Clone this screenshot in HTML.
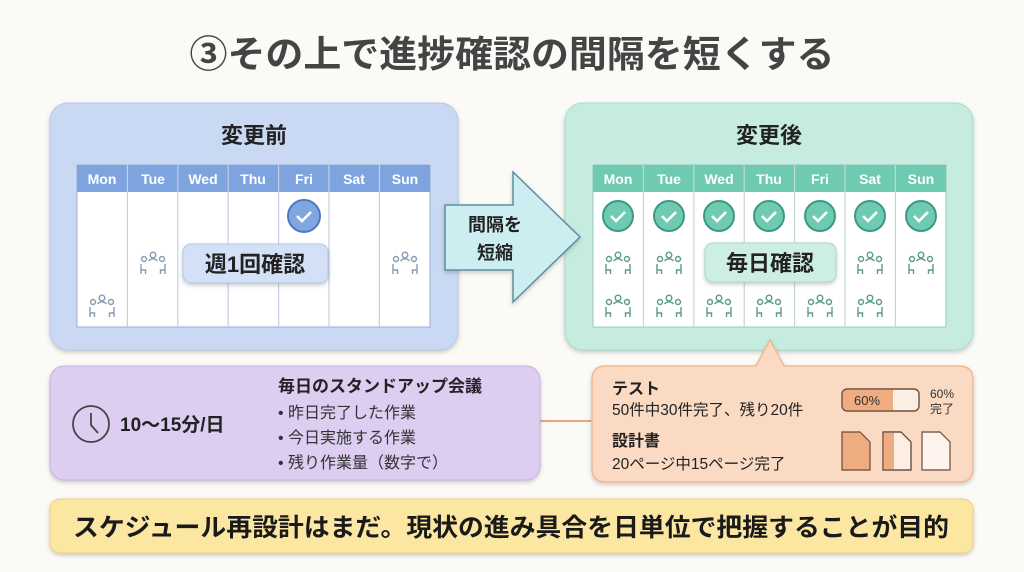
<!DOCTYPE html>
<html><head><meta charset="utf-8"><style>
html,body{margin:0;padding:0;background:#fbfaf6;}
svg{display:block;font-family:"Liberation Sans","Noto Sans CJK JP",sans-serif;}
</style></head><body>
<svg width="1024" height="572" viewBox="0 0 1024 572" xmlns="http://www.w3.org/2000/svg">
<defs>
<filter id="sh" x="-10%" y="-10%" width="120%" height="130%"><feDropShadow dx="0" dy="2" stdDeviation="2" flood-color="#000" flood-opacity="0.2"/></filter>
<g id="ppl" fill="none" stroke-width="1.4">
 <circle cx="0" cy="-7" r="2.8"/><path d="M-4.5,-1 q4.5,-4.5 9,0"/>
 <circle cx="-9" cy="-3" r="2.5"/><path d="M-12,2 v6 h4.5 v4 M-12,8 v4"/>
 <circle cx="9" cy="-3" r="2.5"/><path d="M12,2 v6 h-4.5 v4 M12,8 v4"/>
</g>
<g id="chkB"><circle r="16" fill="#7fa6e0" stroke="#4e79bd" stroke-width="2"/><path d="M-7,0 l5,5 l9,-9" stroke="#fff" stroke-width="2.6" fill="none"/></g>
<g id="chkG"><circle r="15" fill="#6ecab0" stroke="#3c9a82" stroke-width="2"/><path d="M-7,0 l5,5 l9,-9" stroke="#fff" stroke-width="2.6" fill="none"/></g>
</defs>
<rect width="1024" height="572" fill="#fbfaf6"/>
<text x="512" y="67" text-anchor="middle" font-size="37" font-weight="bold" fill="#444" textLength="645" lengthAdjust="spacingAndGlyphs">③その上で進捗確認の間隔を短くする</text>

<!-- left panel -->
<rect x="50" y="103" width="408" height="247" rx="18" fill="#c9d9f3" stroke="#b5c8ea" filter="url(#sh)"/>
<text x="254" y="143" text-anchor="middle" font-size="22" font-weight="bold" fill="#222">変更前</text>
<rect x="77" y="165" width="353" height="162" fill="#fff" stroke="#9aaed0"/>
<rect x="77" y="165" width="353" height="27" fill="#7ea4e0"/>
<g stroke="#c4cfe2" stroke-width="1.2"><line x1="127.4" y1="165" x2="127.4" y2="327"/><line x1="177.8" y1="165" x2="177.8" y2="327"/><line x1="228.2" y1="165" x2="228.2" y2="327"/><line x1="278.6" y1="165" x2="278.6" y2="327"/><line x1="329" y1="165" x2="329" y2="327"/><line x1="379.4" y1="165" x2="379.4" y2="327"/></g>
<g font-size="14" font-weight="bold" fill="#fff" text-anchor="middle"><text x="102" y="184">Mon</text><text x="153" y="184">Tue</text><text x="203" y="184">Wed</text><text x="253" y="184">Thu</text><text x="304" y="184">Fri</text><text x="354" y="184">Sat</text><text x="405" y="184">Sun</text></g>
<use href="#chkB" x="304" y="216"/>
<g stroke="#8a9ab5"><use href="#ppl" x="102" y="305"/><use href="#ppl" x="153" y="262"/><use href="#ppl" x="405" y="262"/></g>
<rect x="183" y="244" width="145" height="39" rx="8" fill="#d3e0f6" stroke="#b6c7e6" filter="url(#sh)"/>
<text x="255" y="272" text-anchor="middle" font-size="22" font-weight="bold" fill="#222">週1回確認</text>

<!-- right panel -->
<rect x="565" y="103" width="408" height="247" rx="18" fill="#c6ece0" stroke="#a9dcce" filter="url(#sh)"/>
<text x="769" y="143" text-anchor="middle" font-size="22" font-weight="bold" fill="#222">変更後</text>
<rect x="593" y="165" width="353" height="162" fill="#fff" stroke="#9cc9bc"/>
<rect x="593" y="165" width="353" height="27" fill="#6ecab0"/>
<g stroke="#c4d8d2" stroke-width="1.2"><line x1="643.4" y1="165" x2="643.4" y2="327"/><line x1="693.8" y1="165" x2="693.8" y2="327"/><line x1="744.2" y1="165" x2="744.2" y2="327"/><line x1="794.6" y1="165" x2="794.6" y2="327"/><line x1="845" y1="165" x2="845" y2="327"/><line x1="895.4" y1="165" x2="895.4" y2="327"/></g>
<g font-size="14" font-weight="bold" fill="#fff" text-anchor="middle"><text x="618" y="184">Mon</text><text x="669" y="184">Tue</text><text x="719" y="184">Wed</text><text x="769" y="184">Thu</text><text x="820" y="184">Fri</text><text x="870" y="184">Sat</text><text x="921" y="184">Sun</text></g>
<use href="#chkG" x="618" y="216"/><use href="#chkG" x="669" y="216"/><use href="#chkG" x="719" y="216"/><use href="#chkG" x="769" y="216"/><use href="#chkG" x="820" y="216"/><use href="#chkG" x="870" y="216"/><use href="#chkG" x="921" y="216"/>
<g stroke="#5a9c8a"><use href="#ppl" x="618" y="262"/><use href="#ppl" x="669" y="262"/><use href="#ppl" x="870" y="262"/><use href="#ppl" x="921" y="262"/>
<use href="#ppl" x="618" y="305"/><use href="#ppl" x="669" y="305"/><use href="#ppl" x="719" y="305"/><use href="#ppl" x="769" y="305"/><use href="#ppl" x="820" y="305"/><use href="#ppl" x="870" y="305"/></g>
<rect x="705" y="243" width="131" height="39" rx="8" fill="#cdeee4" stroke="#a9d8ca" filter="url(#sh)"/>
<text x="770" y="271" text-anchor="middle" font-size="22" font-weight="bold" fill="#222">毎日確認</text>

<!-- arrow (on top) -->
<path d="M445,205 H513 V172 L580,237 L513,302 V270 H445 Z" fill="#cdeef0" stroke="#5b8fa0" stroke-width="1.5" filter="url(#sh)"/>
<text x="495" y="231" text-anchor="middle" font-size="18" font-weight="bold" fill="#222">間隔を</text>
<text x="495" y="259" text-anchor="middle" font-size="18" font-weight="bold" fill="#222">短縮</text>

<!-- connector line -->
<line x1="540" y1="421" x2="592" y2="421" stroke="#e9a77c" stroke-width="2"/>

<!-- purple box -->
<rect x="50" y="366" width="490" height="114" rx="14" fill="#dccdf1" stroke="#c6b4e3" filter="url(#sh)"/>
<g transform="translate(91,424)" fill="none" stroke="#444" stroke-width="1.8"><circle r="18"/><path d="M0,-11 V1 L7,9"/></g>
<text x="120" y="431" font-size="19" font-weight="bold" fill="#222">10〜15分/日</text>
<text x="278" y="392" font-size="17" font-weight="bold" fill="#222">毎日のスタンドアップ会議</text>
<g font-size="16" fill="#333"><text x="278" y="418">• 昨日完了した作業</text><text x="278" y="443">• 今日実施する作業</text><text x="278" y="468">• 残り作業量（数字で）</text></g>

<!-- orange callout -->
<path d="M606,366 H756 L770,340 L784,366 H959 Q973,366 973,380 V468 Q973,482 959,482 H606 Q592,482 592,468 V380 Q592,366 606,366 Z" fill="#fbdac4" stroke="#efb995" stroke-width="1.5" filter="url(#sh)"/>
<text x="612" y="394" font-size="16" font-weight="bold" fill="#222">テスト</text>
<text x="612" y="415" font-size="15.5" fill="#222">50件中30件完了、残り20件</text>
<text x="612" y="446" font-size="16" font-weight="bold" fill="#222">設計書</text>
<text x="612" y="469" font-size="15.5" fill="#222">20ページ中15ページ完了</text>
<rect x="842" y="389" width="77" height="22" rx="5" fill="#fdeee3" stroke="#6a4a3a" stroke-width="1.2"/>
<path d="M847,389 H893 V411 H847 Q842,411 842,406 V394 Q842,389 847,389Z" fill="#eeac80"/>
<rect x="842" y="389" width="77" height="22" rx="5" fill="none" stroke="#6a4a3a" stroke-width="1.2"/>
<text x="867" y="405" text-anchor="middle" font-size="13" fill="#333">60%</text>
<text x="942" y="398" text-anchor="middle" font-size="12" fill="#333">60%</text>
<text x="942" y="413" text-anchor="middle" font-size="12" fill="#333">完了</text>
<path d="M842,432 H860 L870,442 V470 H842 Z" fill="#eeac80" stroke="#6a4a3a" stroke-width="1.2"/>
<path d="M883,432 H901 L911,442 V470 H883 Z" fill="#fdeee3" stroke="#6a4a3a" stroke-width="1.2"/>
<rect x="884" y="433" width="10" height="36" fill="#eeac80"/>
<path d="M883,432 H901 L911,442 V470 H883 Z" fill="none" stroke="#6a4a3a" stroke-width="1.2"/>
<path d="M922,432 H940 L950,442 V470 H922 Z" fill="#fdf3ec" stroke="#6a4a3a" stroke-width="1.2"/>

<!-- bottom banner -->
<rect x="50" y="499" width="923" height="54" rx="10" fill="#fbe6a2" stroke="#eed184" filter="url(#sh)"/>
<text x="511" y="536" text-anchor="middle" font-size="25" font-weight="bold" fill="#1a1a1a" textLength="876" lengthAdjust="spacingAndGlyphs">スケジュール再設計はまだ。現状の進み具合を日単位で把握することが目的</text>
</svg>
</body></html>
